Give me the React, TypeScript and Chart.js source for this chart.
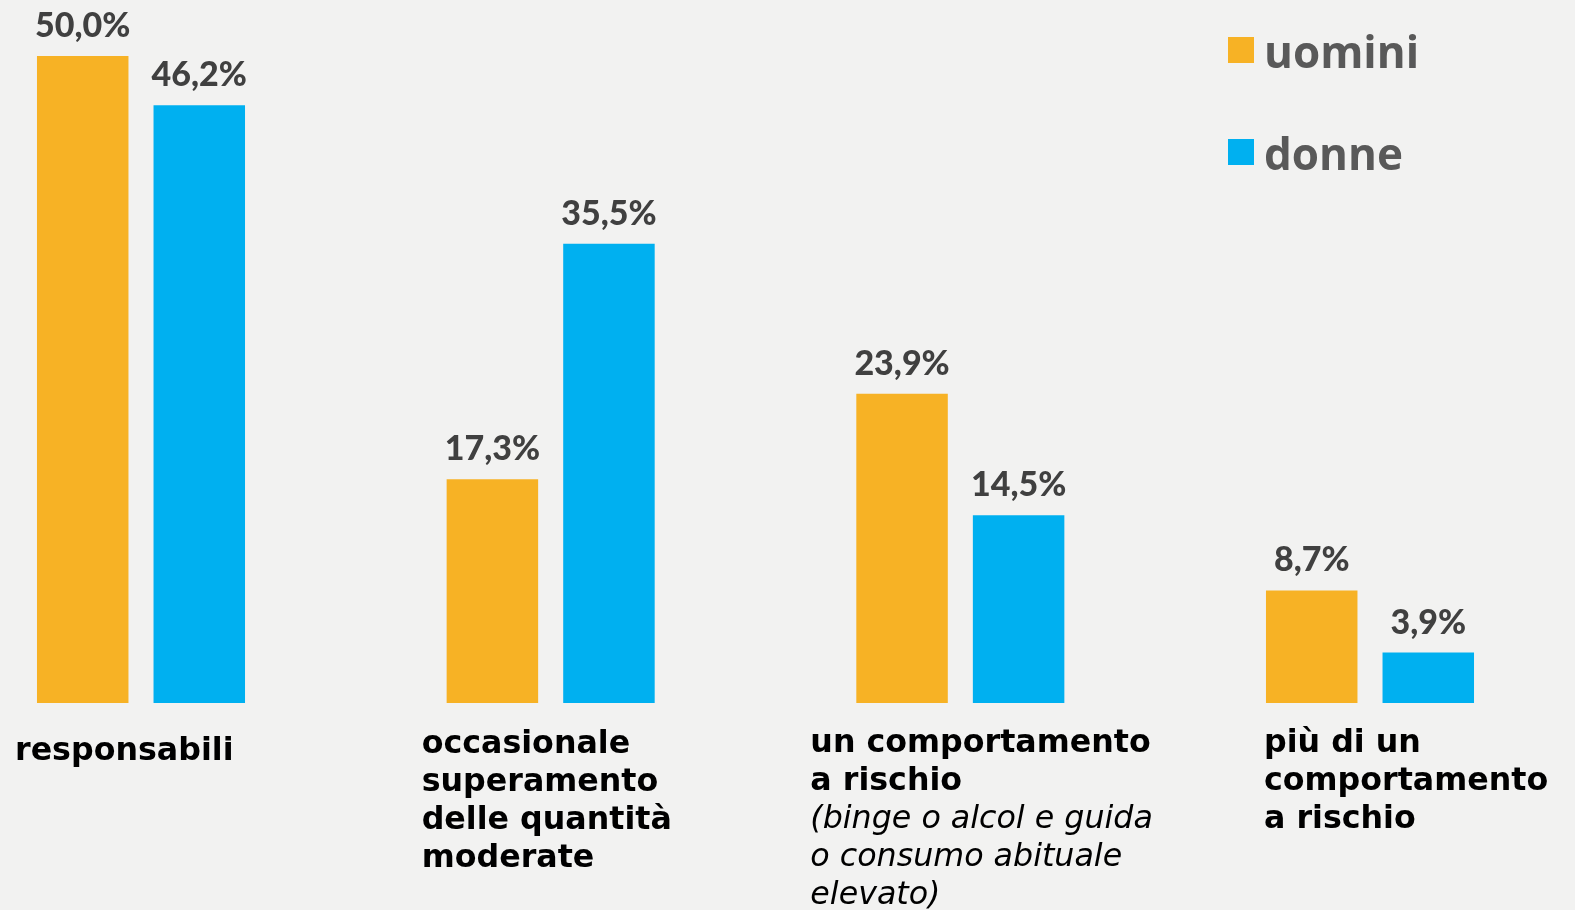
import React, { useEffect, useRef } from 'react';
import { Chart, registerables } from 'chart.js';

Chart.register(...registerables);

// ---- data ----
const categoryLines: string[][] = [
  ['responsabili'],
  ['occasionale', 'superamento', 'delle quantità', 'moderate'],
  ['un comportamento', 'a rischio'],
  ['più di un', 'comportamento', 'a rischio'],
];
const categoryNotes: string[][] = [
  [],
  [],
  ['(binge o alcol e guida', 'o consumo abituale', 'elevato)'],
  [],
];
const seriesNames = ['uomini', 'donne'];
const uomini = [50.0, 17.3, 23.9, 8.7];
const donne = [46.2, 35.5, 14.5, 3.9];

// ---- style / layout ----
const BG = '#F2F2F1';
const ORANGE = '#F7B225';
const BLUE = '#00B0F0';
const labelDx = [-126, -129, -150, -106];
const labelBaseline = [760, 753, 752, 752];
const LINE_H = 38;

const bgPlugin = {
  id: 'bg',
  beforeDraw(chart: any) {
    const { ctx, width, height } = chart;
    ctx.save();
    ctx.fillStyle = BG;
    ctx.fillRect(0, 0, width, height);
    ctx.restore();
  },
};

const valuePlugin = {
  id: 'values',
  afterDatasetsDraw(chart: any) {
    const { ctx } = chart;
    ctx.save();
    ctx.font = '900 34px Lato';
    ctx.fillStyle = '#404040';
    ctx.textAlign = 'center';
    ctx.textBaseline = 'alphabetic';
    chart.data.datasets.forEach((ds: any, di: number) => {
      const meta = chart.getDatasetMeta(di);
      meta.data.forEach((bar: any, i: number) => {
        const v = ds.data[i] as number;
        const txt = v.toFixed(1).replace('.', ',') + '%';
        ctx.fillText(txt, bar.x, bar.y - 19);
      });
    });
    ctx.restore();
  },
};

const categoryPlugin = {
  id: 'cats',
  afterDraw(chart: any) {
    const { ctx } = chart;
    const xs = chart.scales.x;
    ctx.save();
    ctx.fillStyle = '#000000';
    ctx.textAlign = 'left';
    ctx.textBaseline = 'alphabetic';
    categoryLines.forEach((lines, i) => {
      const x = xs.getPixelForValue(i) + labelDx[i];
      let y = labelBaseline[i];
      ctx.font = 'bold 31.7px "DejaVu Sans"';
      lines.forEach((l) => {
        ctx.fillText(l, x, y);
        y += LINE_H;
      });
      ctx.font = 'italic 31.7px "DejaVu Sans"';
      categoryNotes[i].forEach((l) => {
        ctx.fillText(l, x, y);
        y += LINE_H;
      });
    });
    ctx.restore();
  },
};

const legendPlugin = {
  id: 'customLegend',
  afterDraw(chart: any) {
    const { ctx } = chart;
    ctx.save();
    ctx.font = 'bold 44px "Open Sans"';
    ctx.textBaseline = 'alphabetic';
    ctx.textAlign = 'left';
    chart.data.datasets.forEach((ds: any, i: number) => {
      const top = 37 + i * 102;
      ctx.fillStyle = ds.backgroundColor;
      ctx.fillRect(1228, top, 26, 26);
      ctx.fillStyle = '#595959';
      ctx.fillText(ds.label, 1264, top + 31);
    });
    ctx.restore();
  },
};

export default function App() {
  const ref = useRef<HTMLCanvasElement | null>(null);
  useEffect(() => {
    if (!ref.current) return;
    const chart = new Chart(ref.current, {
      type: 'bar',
      data: {
        labels: categoryLines.map((l) => l.join(' ')),
        datasets: [
          { label: seriesNames[0], data: uomini, backgroundColor: ORANGE, borderWidth: 0, clip: false as any },
          { label: seriesNames[1], data: donne, backgroundColor: BLUE, borderWidth: 0, clip: false as any },
        ],
      },
      options: {
        responsive: false,
        animation: false,
        devicePixelRatio: 1,
        layout: { padding: { left: 141, right: 205, top: 56, bottom: 207 } },
        datasets: { bar: { categoryPercentage: 0.569, barPercentage: 0.785 } },
        plugins: { legend: { display: false }, tooltip: { enabled: false } },
        scales: {
          x: { display: false, offset: false, grid: { display: false } },
          y: { display: false, min: 0, max: 50, grid: { display: false } },
        },
      },
      plugins: [bgPlugin, valuePlugin, categoryPlugin, legendPlugin],
    });
    return () => chart.destroy();
  }, []);
  return (
    <div style={{ position: 'absolute', left: 0, top: 0, width: 1575, height: 910 }}>
      <canvas ref={ref} width={1575} height={910} style={{ display: 'block' }} />
    </div>
  );
}
